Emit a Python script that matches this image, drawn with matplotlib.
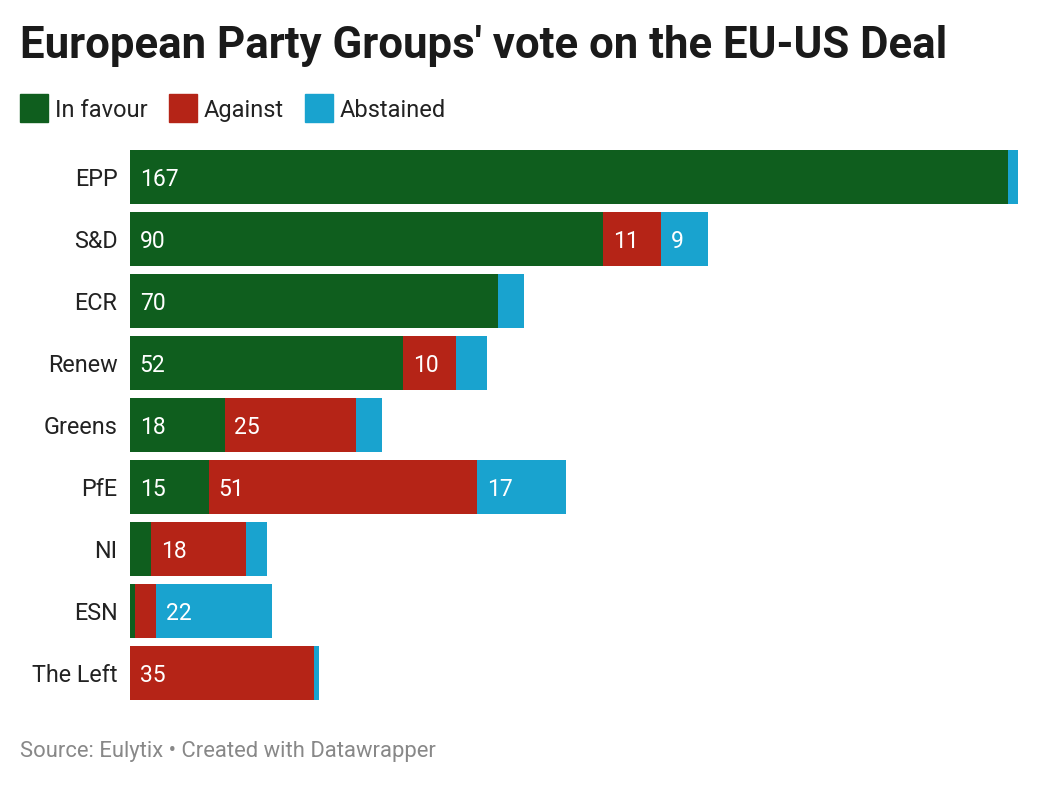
import matplotlib.pyplot as plt
from matplotlib.patches import Rectangle

plt.rcParams['font.family'] = ['Roboto', 'DejaVu Sans']

# Data
groups = ["EPP", "S&D", "ECR", "Renew", "Greens", "PfE", "NI", "ESN", "The Left"]
in_favour = [167, 90, 70, 52, 18, 15, 4, 1, 0]
against = [0, 11, 0, 10, 25, 51, 18, 4, 35]
abstained = [2, 9, 5, 6, 5, 17, 4, 22, 1]

series = ["In favour", "Against", "Abstained"]
colors = ["#0f5e1e", "#b52417", "#19a3cf"]

W, H = 1040, 786
fig = plt.figure(figsize=(W / 100, H / 100), dpi=100)

# axes placed in pixel terms
ax_left, ax_right, ax_top, ax_bottom = 130, 1018, 146, 704
ax = fig.add_axes([ax_left / W, 1 - ax_bottom / H,
                   (ax_right - ax_left) / W, (ax_bottom - ax_top) / H])

y = list(range(len(groups)))
left = [0] * len(groups)
for vals, col in zip([in_favour, against, abstained], colors):
    ax.barh(y, vals, left=left, height=0.87, color=col, linewidth=0)
    for i, v in enumerate(vals):
        if v >= 9:
            ax.annotate(str(v), (left[i], i), xytext=(7, 0), textcoords="offset points",
                        ha="left", va="center_baseline", color="white", fontsize=16.5)
    left = [l + v for l, v in zip(left, vals)]

ax.set_xlim(0, (ax_right - ax_left) / 5.257)
ax.set_ylim(len(groups) - 0.5, -0.5)
ax.set_yticks(y)
ax.set_yticklabels(groups, fontsize=16.8, color="#222222", va="center_baseline")
ax.tick_params(axis="y", length=0, pad=9)
ax.set_xticks([])
for s in ax.spines.values():
    s.set_visible(False)

# Title
fig.text(20 / W, 1 - 46 / H, "European Party Groups' vote on the EU-US Deal",
         fontsize=31.5, fontweight="bold", color="#1a1a1a", va="center", ha="left")

# Legend
lx = 20
for name, col in zip(series, colors):
    fig.add_artist(Rectangle((lx / W, 1 - 122 / H), 28 / W, 28 / H,
                             transform=fig.transFigure, color=col))
    t = fig.text((lx + 35) / W, 1 - 108 / H, name, fontsize=17, color="#222222",
                 va="center_baseline", ha="left")
    fig.canvas.draw()
    bb = t.get_window_extent()
    lx = bb.x1 + 21

# Footer
fig.text(20 / W, 1 - 752 / H, "Source: Eulytix • Created with Datawrapper",
         fontsize=15.8, color="#888888", va="center", ha="left")

fig.savefig("out.png", dpi=100)
